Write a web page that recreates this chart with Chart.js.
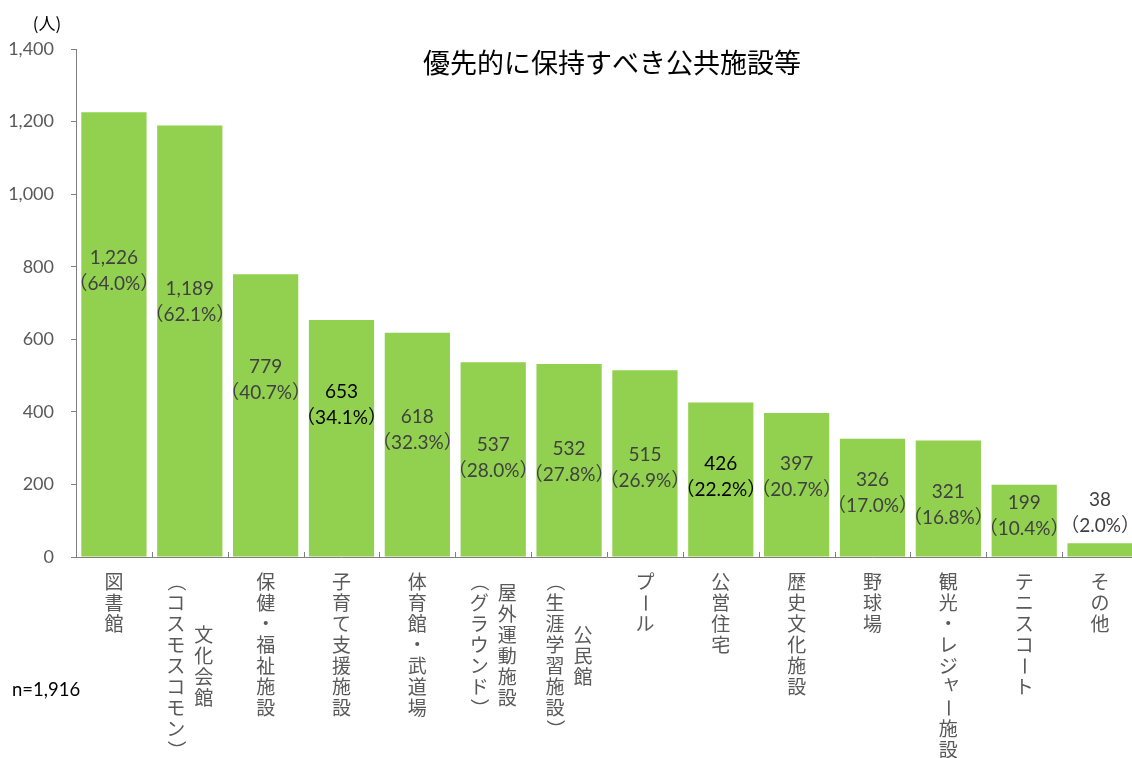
<!DOCTYPE html>
<html lang="ja">
<head>
<meta charset="utf-8">
<title>優先的に保持すべき公共施設等</title>
<script src="https://cdn.jsdelivr.net/npm/chart.js@4/dist/chart.umd.min.js"></script>
<style>
  html, body { margin: 0; padding: 0; background: #fff; overflow: hidden; }
  #wrap { position: relative; width: 1140px; height: 758px; }
</style>
</head>
<body>
<div id="wrap"><canvas id="facilityChart"></canvas></div>
<script>
// category labels, one entry per vertical column (right column first)
const categories = [
    ['図書館'],
    ['文化会館', '（コスモスコモン）'],
    ['保健・福祉施設'],
    ['子育て支援施設'],
    ['体育館・武道場'],
    ['屋外運動施設', '（グラウンド）'],
    ['公民館', '（生涯学習施設）'],
    ['プール'],
    ['公営住宅'],
    ['歴史文化施設'],
    ['野球場'],
    ['観光・レジャー施設'],
    ['テニスコート'],
    ['その他']
];
const counts = [1226, 1189, 779, 653, 618, 537, 532, 515, 426, 397, 326, 321, 199, 38];
const percents = [64.0, 62.1, 40.7, 34.1, 32.3, 28.0, 27.8, 26.9, 22.2, 20.7, 17.0, 16.8, 10.4, 2.0];
const yMin = 0, yMax = 1400, yStep = 200;
const titleText = '優先的に保持すべき公共施設等';
const unitText = '(人)';
const sampleText = 'n=1,916';

const latin = "Lato, 'Noto Sans CJK JP', sans-serif";
const cjk = "'Noto Sans CJK JP', sans-serif";

// where each value label sits inside its bar (fraction of bar height from the base)
const labelRise = [0.643, 0.59, 0.626, 0.64, 0.567, 0.51, 0.49, 0.476, 0.52, 0.555, 0.54, 0.446, 0.57, 0];
const labelColor = ['#404040', '#404040', '#404040', '#000', '#404040', '#404040', '#404040', '#404040', '#000', '#404040', '#404040', '#404040', '#404040', '#404040'];

const rotated = new Set(['（', '）', 'ー']);

const extrasPlugin = {
    id: 'extras',
    afterDraw(chart) {
        const ctx = chart.ctx;
        const x = chart.scales.x;
        const area = chart.chartArea;
        const meta = chart.getDatasetMeta(0);

        ctx.save();

        // title, unit, sample size
        ctx.fillStyle = '#000';
        ctx.textAlign = 'center';
        ctx.textBaseline = 'middle';
        ctx.font = `27px ${cjk}`;
        ctx.fillText(titleText, 612, 63);
        ctx.font = `17px ${cjk}`;
        ctx.fillText(unitText, 47, 24);
        ctx.textAlign = 'left';
        ctx.font = `18.5px ${latin}`;
        ctx.fillText(sampleText, 12, 690);

        // small ticks pointing up from the x axis between categories
        ctx.strokeStyle = '#7f7f7f';
        ctx.lineWidth = 1;
        const step = (area.right - area.left) / counts.length;
        for (let i = 1; i < counts.length; i++) {
            const px = Math.round(area.left + i * step) + 0.5;
            ctx.beginPath();
            ctx.moveTo(px, area.bottom);
            ctx.lineTo(px, area.bottom - 5);
            ctx.stroke();
        }

        // value labels
        ctx.textAlign = 'center';
        ctx.font = `19px ${latin}`;
        meta.data.forEach((bar, i) => {
            const h = bar.base - bar.y;
            let cy;
            if (h < 60) cy = bar.y - 30;
            else cy = bar.base - h * labelRise[i];
            ctx.fillStyle = labelColor[i];
            ctx.fillText(counts[i].toLocaleString('en-US'), bar.x, cy - 13);
            ctx.fillText('（' + percents[i].toFixed(1) + '%）', bar.x, cy + 13);
        });

        // vertical category labels
        ctx.fillStyle = '#595959';
        ctx.font = `19px ${cjk}`;
        const pitch = 21, colGap = 28, top = 582;
        categories.forEach((cols, i) => {
            const cx = x.getPixelForValue(i);
            const longest = Math.max(...cols.map(c => c.length));
            cols.forEach((col, j) => {
                const colX = cx + ((cols.length - 1) / 2 - j) * colGap;
                const startY = top + (longest - col.length) * pitch / 2;
                [...col].forEach((ch, k) => {
                    ctx.save();
                    let dx = 0, dy = 0;
                    if (ch === 'ャ') { dx = 3; dy = -4; }
                    ctx.translate(colX + dx, startY + k * pitch + dy);
                    if (rotated.has(ch)) ctx.rotate(Math.PI / 2);
                    ctx.fillText(ch, 0, 0);
                    ctx.restore();
                });
            });
        });

        ctx.restore();
    }
};

const ctx = document.getElementById('facilityChart').getContext('2d');
const facilityChart = new Chart(ctx, {
    type: 'bar',
    data: {
        labels: categories,
        datasets: [{
            label: '人数',
            data: counts,
            backgroundColor: '#92D050',
            borderWidth: 0,
            barPercentage: 0.86,
            categoryPercentage: 1
        }]
    },
    options: {
        responsive: true,
        maintainAspectRatio: false,
        animation: false,
        layout: { padding: { top: 49, right: 2, left: 0, bottom: 0 } },
        plugins: {
            legend: { display: false },
            tooltip: { enabled: false },
            title: { display: false }
        },
        scales: {
            x: {
                ticks: { display: false },
                grid: { display: false },
                border: { display: true, color: '#7f7f7f', width: 1 },
                afterFit: s => { s.height = 201; }
            },
            y: {
                min: yMin,
                max: yMax,
                ticks: {
                    stepSize: yStep,
                    color: '#595959',
                    font: { size: 18, family: latin },
                    padding: 17,
                    callback: v => v.toLocaleString('en-US')
                },
                grid: { drawOnChartArea: false, drawTicks: true, tickLength: 5, color: '#7f7f7f' },
                border: { display: true, color: '#7f7f7f', width: 1 },
                afterFit: s => { s.width = 76; }
            }
        }
    },
    plugins: [extrasPlugin]
});
</script>
</body>
</html>
